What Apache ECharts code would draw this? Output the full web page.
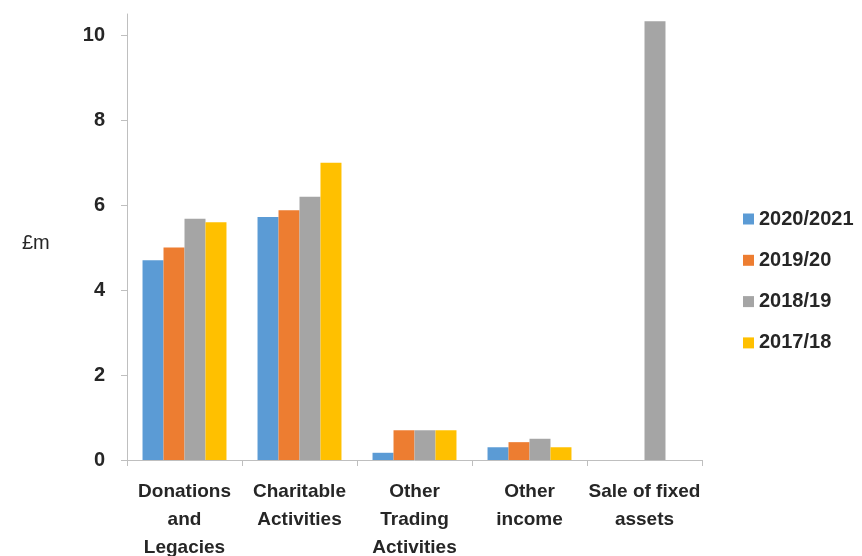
<!DOCTYPE html>
<html>
<head>
<meta charset="utf-8">
<script src="https://cdn.jsdelivr.net/npm/echarts@6/dist/echarts.min.js"></script>
<style>
  html, body { margin: 0; padding: 0; background: #fff; }
  #main { width: 862px; height: 556px; }
</style>
</head>
<body>
<div id="main"></div>
<script>
// income categories and values (£m) per year
var categories = ['Donations\nand\nLegacies', 'Charitable\nActivities', 'Other\nTrading\nActivities', 'Other\nincome', 'Sale of fixed\nassets'];
var years = ['2020/2021', '2019/20', '2018/19', '2017/18'];
var v2020 = [4.7, 5.72, 0.17, 0.3, 0];
var v2019 = [5.0, 5.88, 0.7, 0.42, 0];
var v2018 = [5.68, 6.2, 0.7, 0.5, 10.33];
var v2017 = [5.6, 7.0, 0.7, 0.3, 0];
var yTicks = [0, 2, 4, 6, 8, 10];

var colors = ['#5b9bd5', '#ed7d31', '#a5a5a5', '#ffc000'];
var font = 'Liberation Sans';

function drawIncome(){
    var myChart = echarts.init(document.getElementById('main'));
    var allValues = [v2020, v2019, v2018, v2017];

    var series = years.map(function(y, i){
        return {
            name: y,
            type: 'bar',
            data: allValues[i],
            barGap: '0%',
            barCategoryGap: '27%',
            itemStyle: { color: colors[i] }
        };
    });

    var option = {
        animation: false,
        textStyle: { fontFamily: font },
        grid: { left: 127, right: 160, top: 14, bottom: 96, outerBoundsMode: 'none' },
        legend: {
            orient: 'vertical',
            left: 738,
            top: 204,
            itemWidth: 11,
            itemHeight: 11,
            itemGap: 21.3,
            icon: 'rect',
            data: years,
            textStyle: { fontFamily: font, fontSize: 20, fontWeight: 'bold', color: '#262626', lineHeight: 18 }
        },
        xAxis: {
            type: 'category',
            data: categories,
            axisLine: { lineStyle: { color: '#bfbfbf' } },
            axisTick: { show: true, length: 6, lineStyle: { color: '#bfbfbf' } },
            axisLabel: {
                interval: 0,
                margin: 18,
                fontFamily: font,
                fontSize: 19,
                fontWeight: 'bold',
                lineHeight: 28,
                color: '#262626'
            }
        },
        yAxis: {
            type: 'value',
            min: 0,
            max: 10.5,
            interval: 2,
            splitLine: { show: false },
            axisLine: { show: true, lineStyle: { color: '#bfbfbf' } },
            axisTick: { show: true, length: 6, customValues: yTicks, lineStyle: { color: '#bfbfbf' } },
            axisLabel: {
                customValues: yTicks,
                margin: 22,
                fontFamily: font,
                fontSize: 20,
                fontWeight: 'bold',
                color: '#262626'
            }
        },
        graphic: [{
            type: 'text',
            left: 22,
            top: 233,
            style: { text: '£m', fontFamily: font, fontSize: 20, fill: '#262626' }
        }],
        series: series
    };

    myChart.setOption(option);
}

drawIncome();
</script>
</body>
</html>
